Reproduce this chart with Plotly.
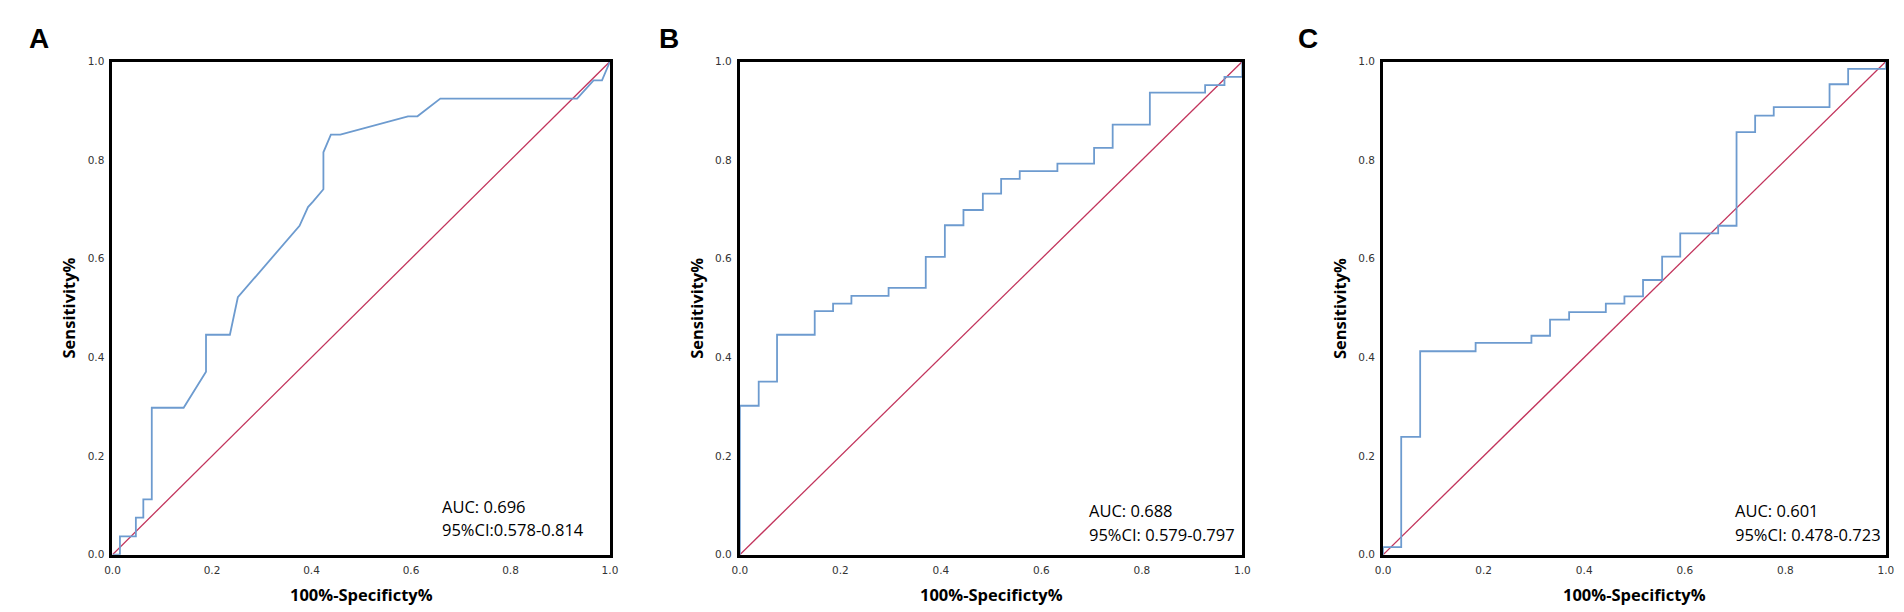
import plotly.graph_objects as go

# ---------------- data ----------------
# Panel A ROC curve (100%-Specificity, Sensitivity)
a_fpr = [0, 0.015, 0.015, 0.047, 0.047, 0.062, 0.062, 0.079, 0.079, 0.143, 0.188, 0.188,
         0.236, 0.252, 0.376, 0.393, 0.403, 0.424, 0.424, 0.439, 0.458, 0.594, 0.613,
         0.659, 0.934, 0.967, 0.984, 1.0]
a_tpr = [0, 0, 0.037, 0.037, 0.075, 0.075, 0.112, 0.112, 0.298, 0.298, 0.371, 0.446,
         0.446, 0.522, 0.667, 0.705, 0.716, 0.741, 0.816, 0.852, 0.852, 0.889, 0.889,
         0.925, 0.925, 0.962, 0.962, 1.0]

# Panel B ROC curve (step points)
b_fpr = [0, 0, 0.0375, 0.074, 0.149, 0.1855, 0.222, 0.296, 0.370, 0.408, 0.445, 0.4836,
         0.520, 0.557, 0.632, 0.705, 0.742, 0.816, 0.926, 0.9645, 1.0, 1.0]
b_tpr = [0, 0.302, 0.351, 0.446, 0.494, 0.509, 0.525, 0.541, 0.604, 0.668, 0.699, 0.732,
         0.762, 0.778, 0.793, 0.825, 0.872, 0.937, 0.952, 0.969, 0.969, 1.0]

# Panel C ROC curve (step points)
c_fpr = [0, 0, 0.036, 0.0737, 0.184, 0.295, 0.332, 0.370, 0.443, 0.480, 0.517, 0.555,
         0.591, 0.6665, 0.703, 0.740, 0.777, 0.888, 0.925, 1.0, 1.0]
c_tpr = [0, 0.0154, 0.239, 0.4125, 0.4295, 0.444, 0.4765, 0.492, 0.509, 0.524, 0.557,
         0.6045, 0.6515, 0.667, 0.857, 0.8905, 0.9075, 0.954, 0.985, 0.985, 1.0]

diag_x = [0, 1]
diag_y = [0, 1]

panel_letters = ["A", "B", "C"]
auc_texts = ["AUC: 0.696", "AUC: 0.688", "AUC: 0.601"]
ci_texts = ["95%CI:0.578-0.814", "95%CI: 0.579-0.797", "95%CI: 0.478-0.723"]
tick_vals = [0, 0.2, 0.4, 0.6, 0.8, 1.0]
tick_text = ["0.0", "0.2", "0.4", "0.6", "0.8", "1.0"]
x_title = "100%-Specificty%"
y_title = "Sensitivity%"

# ---------------- layout geometry (pixels) ----------------
W, H = 1904, 612
panels_px = [(97.3, 599.0), (730.0, 1236.7), (1378.7, 1885.7)]
top_px, bottom_px = 48.5, 551.5
letter_px = [(23.3, 25.5), (658.3, 25.5), (1302.7, 25.5)]
auc_px = [(428, 502, 526), (1080, 506, 531), (1732, 506, 531)]
xtitle_y = 592

BLUE = "#6d9bcf"
RED = "#c2345c"

def fx(p):
    return p / W

def fy(p):
    return 1 - p / H

fig = go.Figure()
curves = [(a_fpr, a_tpr, "linear"), (b_fpr, b_tpr, "hv"), (c_fpr, c_tpr, "hv")]

layout = dict(
    width=W, height=H, margin=dict(l=0, r=0, t=0, b=0),
    paper_bgcolor="white", plot_bgcolor="white", showlegend=False,
    annotations=[],
)

for i, (xs, ys, shape) in enumerate(curves):
    n = "" if i == 0 else str(i + 1)
    fig.add_trace(go.Scatter(x=diag_x, y=diag_y, mode="lines",
                             line=dict(color=RED, width=1.3),
                             xaxis="x" + n, yaxis="y" + n, hoverinfo="skip"))
    fig.add_trace(go.Scatter(x=xs, y=ys, mode="lines",
                             line=dict(color=BLUE, width=1.8, shape=shape),
                             xaxis="x" + n, yaxis="y" + n))
    l, r = panels_px[i]
    axis_common = dict(range=[0, 1], showgrid=False, zeroline=False, showline=True,
                       mirror=True, linecolor="black", linewidth=3, ticks="",
                       tickvals=tick_vals, ticktext=tick_text,
                       tickfont=dict(family="DejaVu Sans", size=10.5, color="#333333"),
                       fixedrange=True)
    layout["xaxis" + n] = dict(axis_common, domain=[fx(l), fx(r)],
                               anchor="y" + n, ticklabelstandoff=4)
    layout["yaxis" + n] = dict(axis_common, domain=[fy(bottom_px), fy(top_px)],
                               anchor="x" + n, ticklabelstandoff=3)
    cx = (l + r) / 2
    layout["annotations"] += [
        dict(text="<b>" + x_title + "</b>", x=fx(cx), y=fy(xtitle_y), xref="paper", yref="paper",
             showarrow=False, xanchor="center", yanchor="middle",
             font=dict(family="Open Sans", size=16.5, color="black")),
        dict(text="<b>" + y_title + "</b>", x=fx(l - 44.5), y=fy((top_px + bottom_px) / 2),
             xref="paper", yref="paper", showarrow=False, textangle=-90,
             xanchor="center", yanchor="middle",
             font=dict(family="Open Sans", size=16.5, color="black")),
        dict(text="<b>" + panel_letters[i] + "</b>", x=fx(letter_px[i][0]), y=fy(letter_px[i][1]),
             xref="paper", yref="paper", showarrow=False, xanchor="center", yanchor="middle",
             font=dict(family="Liberation Sans", size=28, color="black")),
        dict(text=auc_texts[i], x=fx(auc_px[i][0]), y=fy(auc_px[i][1]), xref="paper",
             yref="paper", showarrow=False, xanchor="left", yanchor="middle",
             font=dict(family="Open Sans", size=16.5, color="black")),
        dict(text=ci_texts[i], x=fx(auc_px[i][0]), y=fy(auc_px[i][2]), xref="paper",
             yref="paper", showarrow=False, xanchor="left", yanchor="middle",
             font=dict(family="Open Sans", size=16.5, color="black")),
    ]

fig.update_layout(**layout)
fig.write_html("out.html")
